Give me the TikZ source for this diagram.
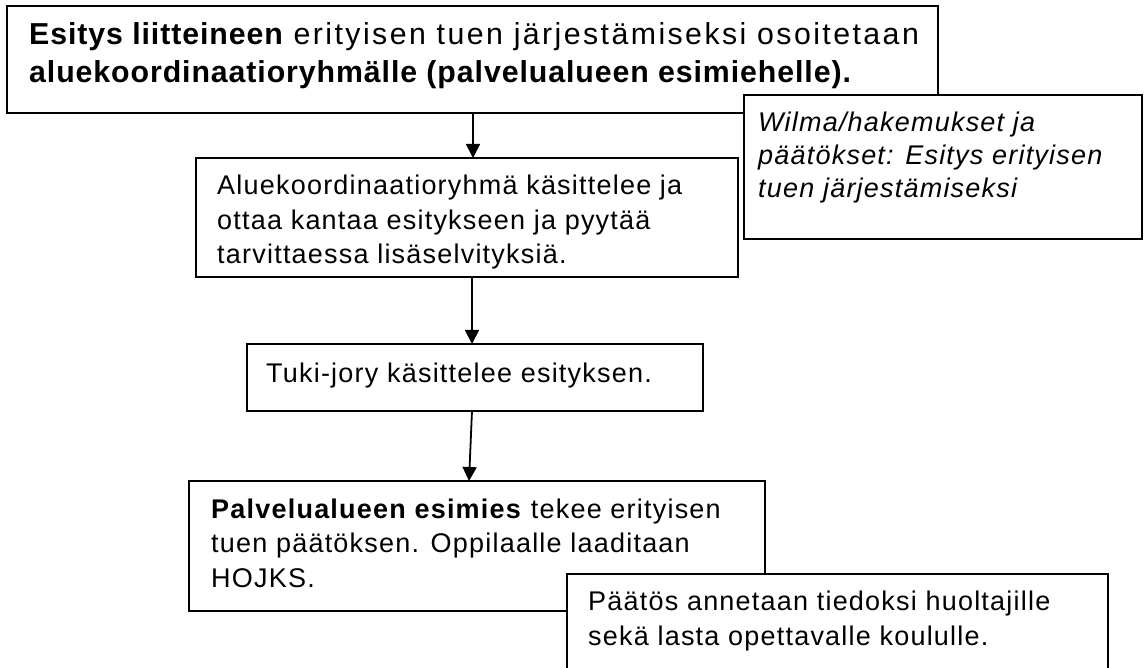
\documentclass[tikz,border=0pt]{standalone}
\usepackage{fontspec}
\setmainfont{Liberation Sans}
\newfontfamily\txtfont[LetterSpace=4.5]{Liberation Sans}
\newfontfamily\headreg[LetterSpace=8]{Liberation Sans}
\newfontfamily\headbold[LetterSpace=3]{Liberation Sans}
\usetikzlibrary{arrows.meta,calc}
\begin{document}
\begin{tikzpicture}[x=1pt,y=-1pt,
  box/.style={draw, line width=1.6pt, fill=white, rectangle, inner sep=0pt, outer sep=0pt, anchor=north west},
  txt/.style={anchor=base west, inner sep=0pt, align=left, font=\txtfont\fontsize{27}{34.5}\selectfont},
  headtxt/.style={anchor=base west, inner sep=0pt, align=left, font=\headreg\fontsize{30.3}{38}\selectfont},
  arr/.style={-{Triangle[length=14pt,width=14pt]}, line width=1.8pt}]
\useasboundingbox (0,0) rectangle (1144,668);
\clip (0,0) rectangle (1144,668);
\fill[white] (0,0) rectangle (1144,668);

% box 1 (text anchor = baseline of its last line)
\node[box, minimum width=931pt, minimum height=107pt] (b1) at (7,6) {};
\node[headtxt] (t1) at (29,83) {{\headbold\bfseries Esitys liitteineen} erityisen tuen järjestämiseksi osoitetaan\\{\headbold\bfseries aluekoordinaatioryhmälle (palvelualueen esimiehelle).}};

% Wilma box
\node[box, minimum width=398pt, minimum height=144pt] (b2) at (744,95) {};
\node[txt, font=\txtfont\itshape\fontsize{27}{33}\selectfont] (t2) at (758,198) {Wilma/hakemukset ja\\päätökset: Esitys erityisen\\tuen järjestämiseksi};

% box 3
\node[box, minimum width=542pt, minimum height=119pt] (b3) at (196,158) {};
\node[txt] (t3) at (217,264) {Aluekoordinaatioryhmä käsittelee ja\\ottaa kantaa esitykseen ja pyytää\\tarvittaessa lisäselvityksiä.};

% box 4
\node[box, minimum width=456pt, minimum height=67pt] (b4) at (247,344) {};
\node[txt] (t4) at (266,383) {Tuki-jory käsittelee esityksen.};

% box 5
\node[box, minimum width=576pt, minimum height=130pt] (b5) at (189,481) {};
\node[txt] (t5) at (211,587) {\textbf{Palvelualueen esimies} tekee erityisen\\tuen päätöksen. Oppilaalle laaditaan\\HOJKS.};

% box 6 (continues below the page edge)
\node[box, minimum width=541pt, minimum height=130pt] (b6) at (567,574) {};
\node[txt] (t6) at (588,645) {Päätös annetaan tiedoksi huoltajille\\sekä lasta opettavalle koululle.};

% arrows
\draw[arr] ($(b1.south west)+(466,0)$) -- ($(b3.north west)+(277,0)$);
\draw[arr] ($(b3.south west)+(276,0)$) -- ($(b4.north west)+(225,0)$);
\draw[arr] ($(b4.south west)+(225,0)$) -- ($(b5.north west)+(280,0)$);
\end{tikzpicture}
\end{document}
